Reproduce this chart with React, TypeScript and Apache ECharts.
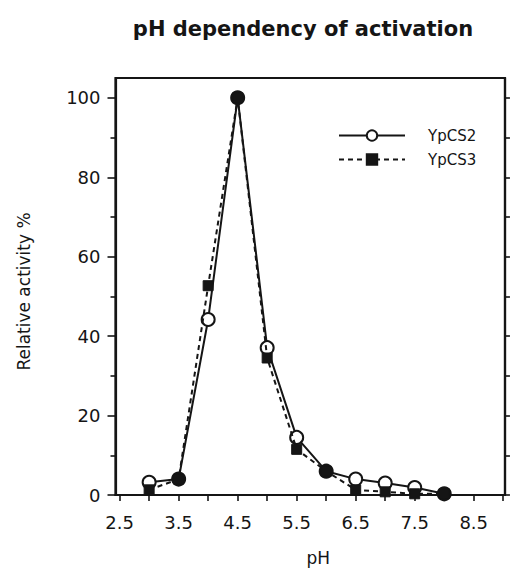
import React, { useEffect, useRef } from "react";
import * as echarts from "echarts";

const phValues = [3.0, 3.5, 4.0, 4.5, 5.0, 5.5, 6.0, 6.5, 7.0, 7.5, 8.0];
const ypcs2 = [3.2, 4.0, 44.2, 100, 37.1, 14.5, 6.0, 4.0, 3.0, 1.9, 0.3];
const ypcs3 = [1.3, 4.0, 52.7, 100, 34.5, 11.5, 6.0, 1.3, 0.8, 0.3, 0.3];
const xTickValues = [2.5, 3.0, 3.5, 4.0, 4.5, 5.0, 5.5, 6.0, 6.5, 7.0, 7.5, 8.0, 8.5, 9.0];
const xLabelValues = [2.5, 3.5, 4.5, 5.5, 6.5, 7.5, 8.5];
const yMajorTicks = [0, 20, 40, 60, 80, 100];
const yMinorTicks = [10, 30, 50, 70, 90];
const yAllTicks = [0, 10, 20, 30, 40, 50, 60, 70, 80, 90, 100];

const INK = "#151515";
const FONT = "DejaVu Sans";

export default function App() {
  const ref = useRef<HTMLDivElement>(null);
  useEffect(() => {
    if (!ref.current) return;
    const chart = echarts.init(ref.current, null, { renderer: "svg" });
    const s2 = phValues.map((x, i) => {
      const same = ypcs2[i] === ypcs3[i];
      return same
        ? { value: [x, ypcs2[i]], itemStyle: { color: INK } }
        : { value: [x, ypcs2[i]] };
    });
    const s3 = phValues.map((x, i) => [x, ypcs3[i]]);
    const yBase = { type: "value", min: 0, max: 105, splitLine: { show: false } };
    chart.setOption({
      animation: false,
      backgroundColor: "#fff",
      title: {
        text: "pH dependency of activation",
        left: 298,
        top: 13,
        textAlign: "center",
        textStyle: { fontFamily: FONT, fontWeight: "bold", fontSize: 21, color: INK },
      },
      legend: {
        orient: "vertical",
        left: 333,
        top: 123,
        itemWidth: 66,
        itemHeight: 13,
        itemGap: 9,
        data: ["YpCS2", "YpCS3"],
        textStyle: { fontFamily: FONT, fontSize: 15, color: INK, padding: [0, 0, 0, 18] },
      },
      grid: {
        left: 115.5,
        right: 10,
        top: 78,
        bottom: 75,
        show: true,
        borderColor: INK,
        borderWidth: 2.2,
        backgroundColor: "transparent",
      },
      xAxis: {
        type: "value",
        min: 2.43,
        max: 9.03,
        name: "pH",
        nameLocation: "middle",
        nameGap: 54,
        nameTextStyle: { fontFamily: FONT, fontSize: 17, color: INK, padding: [0, 0, 0, 16] },
        axisLine: { show: true, lineStyle: { color: INK, width: 2.2 } },
        axisTick: { show: true, inside: false, length: 6, lineStyle: { color: INK, width: 1.6 }, customValues: xTickValues },
        axisLabel: {
          customValues: xLabelValues,
          margin: 18,
          fontFamily: FONT,
          fontSize: 18,
          color: INK,
          formatter: (v: number) => v.toFixed(1),
        },
        splitLine: { show: false },
      },
      yAxis: [
        {
          ...yBase,
          position: "left",
          name: "Relative activity %",
          nameLocation: "middle",
          nameGap: 83,
          nameRotate: 90,
          nameTextStyle: { fontFamily: FONT, fontSize: 17, color: INK, padding: [0, 10, 0, 0] },
          axisLine: { show: true, lineStyle: { color: INK, width: 2.2 } },
          axisTick: { show: true, inside: false, length: 8, lineStyle: { color: INK, width: 1.6 }, customValues: yMajorTicks },
          axisLabel: { customValues: yMajorTicks, margin: 15, fontFamily: FONT, fontSize: 18, color: INK },
        },
        {
          ...yBase,
          position: "left",
          axisLine: { show: false },
          axisTick: { show: true, inside: false, length: 5, lineStyle: { color: INK, width: 1.6 }, customValues: yMinorTicks },
          axisLabel: { show: false },
        },
        {
          ...yBase,
          position: "right",
          axisLine: { show: true, lineStyle: { color: INK, width: 2.2 } },
          axisTick: { show: true, inside: false, length: 5, lineStyle: { color: INK, width: 1.6 }, customValues: yAllTicks },
          axisLabel: { show: false },
        },
      ],
      series: [
        {
          name: "YpCS2",
          type: "line",
          yAxisIndex: 0,
          data: s2,
          symbol: "circle",
          symbolSize: 13,
          lineStyle: { color: INK, width: 2, type: "solid" },
          itemStyle: { color: "#fff", borderColor: INK, borderWidth: 2 },
          z: 3,
        },
        {
          name: "YpCS3",
          type: "line",
          yAxisIndex: 0,
          data: s3,
          symbol: "rect",
          symbolSize: 10,
          lineStyle: { color: INK, width: 2, type: [5, 4] },
          itemStyle: { color: INK, borderColor: INK, borderWidth: 1 },
          z: 4,
        },
      ],
    });
    return () => chart.dispose();
  }, []);
  return <div ref={ref} style={{ width: 515, height: 571, position: "absolute", left: 0, top: 0 }} />;
}
